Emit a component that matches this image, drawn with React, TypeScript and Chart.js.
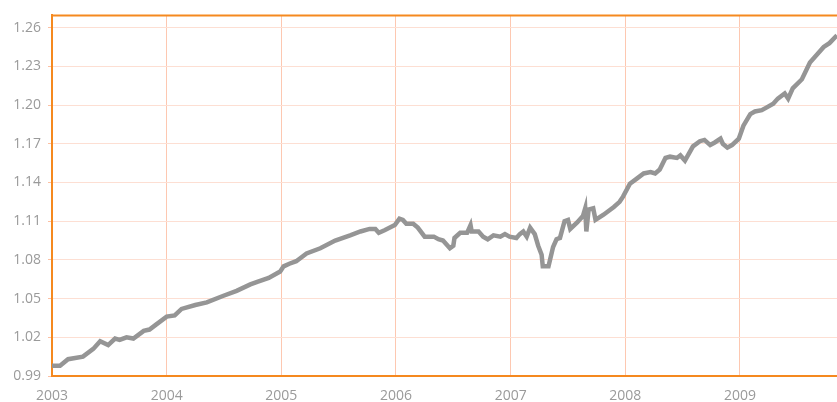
import React, { useEffect, useRef } from "react";
import { Chart, registerables } from "chart.js";

Chart.register(...registerables);

// Decimal-year dates of the series
const dates: number[] = [
  2003.0, 2003.07, 2003.14, 2003.27, 2003.36, 2003.42, 2003.49, 2003.55, 2003.59, 2003.65,
  2003.71, 2003.8, 2003.85, 2003.91, 2004.0, 2004.07, 2004.13, 2004.25, 2004.35, 2004.49,
  2004.61, 2004.73, 2004.79, 2004.89, 2004.99, 2005.02, 2005.07, 2005.13, 2005.22, 2005.34,
  2005.47, 2005.6, 2005.69, 2005.77, 2005.82, 2005.85, 2005.9, 2005.99, 2006.03, 2006.06,
  2006.09, 2006.15, 2006.19, 2006.25, 2006.33, 2006.37, 2006.41, 2006.47, 2006.5, 2006.51,
  2006.56, 2006.62, 2006.65, 2006.66, 2006.72, 2006.76, 2006.8, 2006.85, 2006.91, 2006.95,
  2006.99, 2007.05, 2007.08, 2007.11, 2007.14, 2007.17, 2007.21, 2007.24, 2007.27, 2007.28,
  2007.33, 2007.37, 2007.4, 2007.43, 2007.47, 2007.5, 2007.52, 2007.58, 2007.63, 2007.65,
  2007.66, 2007.68, 2007.72, 2007.74, 2007.81, 2007.9, 2007.95, 2007.98, 2008.04, 2008.1,
  2008.16, 2008.22, 2008.26, 2008.3, 2008.35, 2008.39, 2008.45, 2008.48, 2008.52, 2008.59,
  2008.65, 2008.69, 2008.74, 2008.78, 2008.83, 2008.85, 2008.89, 2008.93, 2008.99, 2009.03,
  2009.09, 2009.13, 2009.19, 2009.23, 2009.29, 2009.33, 2009.39, 2009.42, 2009.46, 2009.54,
  2009.61, 2009.67, 2009.73, 2009.78, 2009.846,
];

// Series values
const values: number[] = [
  0.998, 0.998, 1.003, 1.005, 1.011, 1.017, 1.014, 1.019, 1.018, 1.02,
  1.019, 1.025, 1.026, 1.03, 1.036, 1.037, 1.042, 1.045, 1.047, 1.052,
  1.056, 1.061, 1.063, 1.066, 1.071, 1.075, 1.077, 1.079, 1.085, 1.089,
  1.095, 1.099, 1.102, 1.104, 1.104, 1.101, 1.103, 1.107, 1.112, 1.111,
  1.108, 1.108, 1.105, 1.098, 1.098, 1.096, 1.095, 1.089, 1.091, 1.097,
  1.101, 1.101, 1.107, 1.102, 1.102, 1.098, 1.096, 1.099, 1.098, 1.1,
  1.098, 1.097, 1.1, 1.102, 1.098, 1.105, 1.1, 1.091, 1.084, 1.075,
  1.075, 1.09, 1.096, 1.097, 1.11, 1.111, 1.104, 1.109, 1.114, 1.12,
  1.102, 1.119, 1.12, 1.111, 1.115, 1.121, 1.125, 1.129, 1.139, 1.143,
  1.147, 1.148, 1.147, 1.15, 1.159, 1.16, 1.159, 1.161, 1.157, 1.168,
  1.172, 1.173, 1.169, 1.171, 1.174, 1.17, 1.167, 1.169, 1.174, 1.184,
  1.193, 1.195, 1.196, 1.198, 1.201, 1.205, 1.209, 1.205, 1.213, 1.22,
  1.233, 1.239, 1.245, 1.248, 1.254,
];

const yearTicks: number[] = [2003, 2004, 2005, 2006, 2007, 2008, 2009];
const valueTicks: number[] = [0.99, 1.02, 1.05, 1.08, 1.11, 1.14, 1.17, 1.2, 1.23, 1.26];

const X_MIN = 2003;
const X_MAX = 2009.846;
const Y_MIN = 0.99;
const Y_MAX = 1.2695;

const ORANGE = "#f5891f";
const LABEL = "#9a9a9a";
const FONT = "'Open Sans', 'DejaVu Sans', sans-serif";

const topBorder = {
  id: "topBorder",
  afterDatasetsDraw(chart: any) {
    const { ctx, chartArea } = chart;
    ctx.save();
    ctx.strokeStyle = ORANGE;
    ctx.lineWidth = 2;
    ctx.beginPath();
    ctx.moveTo(chartArea.left - 1, chartArea.top);
    ctx.lineTo(chartArea.right, chartArea.top);
    ctx.stroke();
    ctx.restore();
  },
};

export default function App() {
  const ref = useRef<HTMLCanvasElement | null>(null);

  useEffect(() => {
    if (!ref.current) return;
    const chart = new Chart(ref.current, {
      type: "line",
      data: {
        datasets: [
          {
            data: dates.map((d, i) => ({ x: d, y: values[i] })),
            borderColor: "#959595",
            borderWidth: 4.5,
            pointRadius: 0,
            tension: 0,
            fill: false,
          },
        ],
      },
      options: {
        animation: false,
        responsive: false,
        layout: { padding: { top: 13, right: 0, left: 0, bottom: 0 } },
        plugins: { legend: { display: false }, tooltip: { enabled: false } },
        scales: {
          x: {
            type: "linear",
            min: X_MIN,
            max: X_MAX,
            afterBuildTicks: (s: any) => {
              s.ticks = yearTicks.map((v) => ({ value: v }));
            },
            afterFit: (s: any) => {
              s.height = 26;
            },
            ticks: {
              color: LABEL,
              font: { family: FONT, size: 14 },
              padding: 12,
              maxRotation: 0,
              autoSkip: false,
              callback: (v: any) => String(v),
            },
            grid: { color: "#fdc8b1", lineWidth: 1, drawTicks: false },
            border: { color: ORANGE, width: 2 },
          },
          y: {
            min: Y_MIN,
            max: Y_MAX,
            afterBuildTicks: (s: any) => {
              s.ticks = valueTicks.map((v) => ({ value: v }));
            },
            afterFit: (s: any) => {
              s.width = 52;
            },
            ticks: {
              color: LABEL,
              font: { family: FONT, size: 14 },
              padding: 7,
              autoSkip: false,
              callback: (v: any) => Number(v).toFixed(2),
            },
            grid: { color: "#fddfd3", lineWidth: 1, drawTicks: true, tickLength: 4, tickColor: "#fcc0a3" },
            border: { color: ORANGE, width: 2 },
          },
        },
      },
      plugins: [topBorder],
    });
    return () => chart.destroy();
  }, []);

  return (
    <div style={{ position: "absolute", left: 0, top: 0, width: 837, height: 402 }}>
      <canvas ref={ref} width={837} height={402} />
    </div>
  );
}
